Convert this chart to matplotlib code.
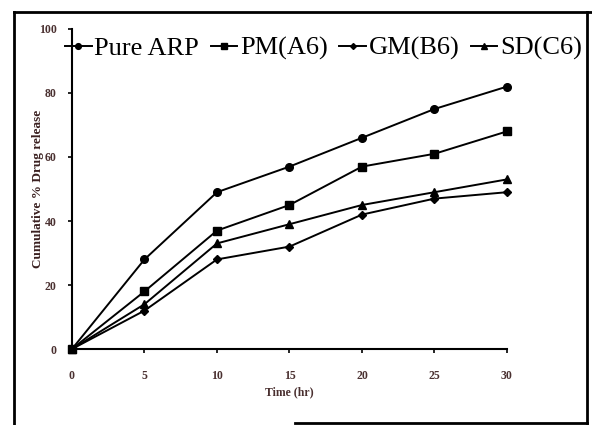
import matplotlib
matplotlib.use('Agg')
import matplotlib.pyplot as plt
from matplotlib.lines import Line2D

# Release data (time in hr, cumulative % drug release)
time_hr = [0, 5, 10, 15, 20, 25, 30]
pure_arp = [0, 28, 49, 57, 66, 75, 82]
pm_a6 = [0, 18, 37, 45, 57, 61, 68]
gm_b6 = [0, 12, 28, 32, 42, 47, 49]
sd_c6 = [0, 14, 33, 39, 45, 49, 53]

labels = ['Pure ARP', 'PM(A6)', 'GM(B6)', 'SD(C6)']
markers = ['o', 's', 'D', '^']
sizes = [5.5, 5.5, 4, 5.5]
xticks = [0, 5, 10, 15, 20, 25, 30]
yticks = [0, 20, 40, 60, 80, 100]

tick_col = '#4a3030'

fig = plt.figure(figsize=(5.92, 4.25), dpi=100)
ax = fig.add_axes([0.1216, 0.1788, 0.7348, 0.753])

for ys, lab, m, ms in zip([pure_arp, pm_a6, gm_b6, sd_c6], labels, markers, sizes):
    ax.plot(time_hr, ys, color='black', lw=1.4, marker=m, markersize=ms,
            label=lab, clip_on=False, zorder=3)

ax.set_xlim(0, 30)
ax.set_ylim(0, 100)
ax.set_xticks(xticks)
ax.set_yticks(yticks)
ax.spines['top'].set_visible(False)
ax.spines['right'].set_visible(False)
ax.spines['left'].set_linewidth(1.5)
ax.spines['bottom'].set_linewidth(1.5)
ax.tick_params(direction='out', length=3, width=1.2, labelsize=8.5,
               labelcolor=tick_col)
ax.tick_params(axis='x', pad=12)
ax.tick_params(axis='y', pad=8)
for t in ax.get_xticklabels() + ax.get_yticklabels():
    t.set_fontfamily('Liberation Serif')
    t.set_fontweight('bold')

ax.set_xlabel('Time (hr)', fontsize=8.5, fontweight='bold', family='Liberation Serif',
              color=tick_col, labelpad=3)
ax.set_ylabel('Cumulative % Drug release', fontsize=9.5, fontweight='bold',
              family='Liberation Serif', color='#3a2020')
ax.yaxis.set_label_coords(-0.064, 0.5)

leg = ax.legend(ncol=4, loc='upper left', bbox_to_anchor=(-0.04, 1.01), frameon=False,
                prop={'family': 'Liberation Serif', 'size': 19},
                handlelength=1.0, handletextpad=0.1, columnspacing=0.45,
                markerscale=0.75, borderaxespad=0)

# outer picture frame
frame = [([0.024, 0.024], [0.0, 0.972]),
         ([0.024, 1.0], [0.972, 0.972]),
         ([0.992, 0.992], [0.005, 0.972]),
         ([0.498, 0.992], [0.005, 0.005])]
for xs, ys in frame:
    fig.add_artist(Line2D(xs, ys, transform=fig.transFigure, color='black', lw=2))

fig.savefig('out.png', dpi=100)
